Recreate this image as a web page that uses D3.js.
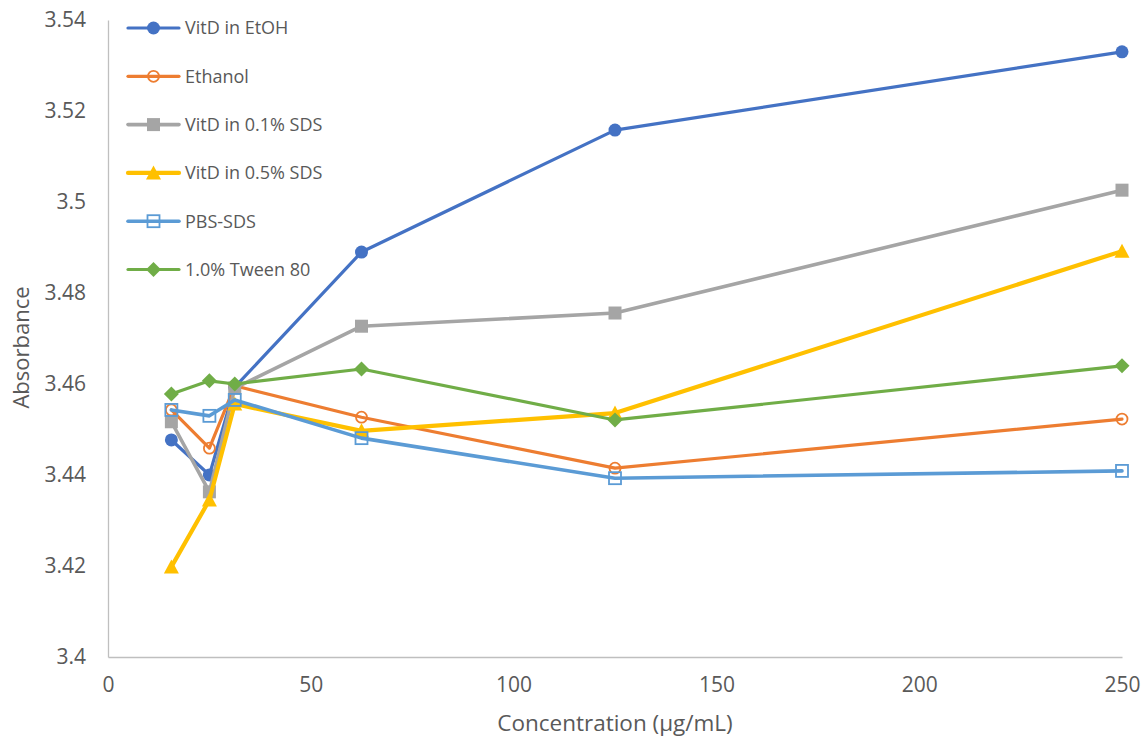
<!DOCTYPE html>
<html>
<head>
<meta charset="utf-8">
<script src="https://cdn.jsdelivr.net/npm/d3@7"></script>
<style>
  html, body { margin: 0; padding: 0; background: #fff; }
  svg { display: block; }
  text { font-family: "Open Sans", sans-serif; fill: #595959; }
</style>
</head>
<body>
<svg id="chart" width="1145" height="740"></svg>
<script>
// Concentrations (µg/mL)
const concentrations = [15.625, 25, 31.25, 62.5, 125, 250];

// Absorbance for each sample
const vitdEtoh   = [3.4477, 3.4400, 3.4593, 3.4890, 3.5158, 3.5330];
const ethanol    = [3.4543, 3.4459, 3.4596, 3.4527, 3.4415, 3.4523];
const vitdSds01  = [3.4517, 3.4363, 3.4591, 3.4727, 3.4756, 3.5026];
const vitdSds05  = [3.4198, 3.4345, 3.4556, 3.4497, 3.4536, 3.4892];
const pbsSds     = [3.4543, 3.4530, 3.4565, 3.4481, 3.4393, 3.4409];
const tween80    = [3.4578, 3.4607, 3.4600, 3.4633, 3.4521, 3.4640];

const seriesNames = ["VitD in EtOH", "Ethanol", "VitD in 0.1% SDS", "VitD in 0.5% SDS", "PBS-SDS", "1.0% Tween 80"];
const xTicks = [0, 50, 100, 150, 200, 250];
const yTicks = [3.4, 3.42, 3.44, 3.46, 3.48, 3.5, 3.52, 3.54];

const series = [
  { name: seriesNames[0], values: vitdEtoh,  color: "#4472C4", marker: "circle",   filled: true,  width: 3.2 },
  { name: seriesNames[1], values: ethanol,   color: "#ED7D31", marker: "circle",   filled: false, width: 3.2 },
  { name: seriesNames[2], values: vitdSds01, color: "#A5A5A5", marker: "square",   filled: true,  width: 3.6 },
  { name: seriesNames[3], values: vitdSds05, color: "#FFC000", marker: "triangle", filled: true,  width: 4.2 },
  { name: seriesNames[4], values: pbsSds,    color: "#5B9BD5", marker: "square",   filled: false, width: 3.6 },
  { name: seriesNames[5], values: tween80,   color: "#70AD47", marker: "diamond",  filled: true,  width: 3.2 }
];

const svg = d3.select("#chart");
const plotLeft = 108, plotRight = 1122, plotTop = 20, plotBottom = 657;

const x = d3.scaleLinear().domain([0, 250]).range([plotLeft, plotRight]);
const y = d3.scaleLinear().domain([3.4, 3.54]).range([plotBottom, plotTop]);

// Axes
const xAxis = svg.append("g").attr("transform", `translate(0,${plotBottom})`)
  .call(d3.axisBottom(x).tickValues(xTicks).tickSize(0).tickPadding(20).tickFormat(d3.format("d")));
const yAxis = svg.append("g").attr("transform", `translate(${plotLeft},0)`)
  .call(d3.axisLeft(y).tickValues(yTicks).tickSize(0).tickPadding(22).tickFormat(d => String(+d.toFixed(2))));
[xAxis, yAxis].forEach(g => {
  g.select(".domain").attr("stroke", "#BFBFBF").attr("stroke-width", 1.3);
  g.selectAll("text").style("font-size", "21px").style("font-family", "'Open Sans', sans-serif").attr("fill", "#595959");
});

// Axis titles
svg.append("text").attr("x", (plotLeft + plotRight) / 2).attr("y", 731)
  .attr("text-anchor", "middle").style("font-size", "22.5px").text("Concentration (µg/mL)");
svg.append("text").attr("transform", `translate(29,${(plotTop + plotBottom) / 2 + 9}) rotate(-90)`)
  .attr("text-anchor", "middle").style("font-size", "22px").text("Absorbance");

// Marker shapes
function drawMarker(g, s, cx, cy) {
  const fill = s.filled ? s.color : "none";
  let el;
  if (s.marker === "circle") {
    el = g.append("circle").attr("cx", cx).attr("cy", cy).attr("r", s.filled ? 6.5 : 5.5);
  } else if (s.marker === "square") {
    const h = s.filled ? 6.5 : 6;
    el = g.append("rect").attr("x", cx - h).attr("y", cy - h).attr("width", 2 * h).attr("height", 2 * h);
  } else if (s.marker === "triangle") {
    el = g.append("path").attr("d", `M${cx},${cy - 7.5}L${cx + 7.5},${cy + 6.5}L${cx - 7.5},${cy + 6.5}Z`);
  } else {
    el = g.append("path").attr("d", `M${cx},${cy - 7.5}L${cx + 7.5},${cy}L${cx},${cy + 7.5}L${cx - 7.5},${cy}Z`);
  }
  el.attr("fill", fill).attr("stroke", s.color).attr("stroke-width", s.filled ? 0 : 1.8);
}

const line = d3.line().x(d => x(d[0])).y(d => y(d[1]));

series.forEach(s => {
  const pts = concentrations.map((c, i) => [c, s.values[i]]);
  const g = svg.append("g");
  g.append("path").datum(pts).attr("d", line)
    .attr("fill", "none").attr("stroke", s.color).attr("stroke-width", s.width)
    .attr("stroke-linejoin", "round").attr("stroke-linecap", "round");
  pts.forEach(p => drawMarker(g, s, x(p[0]), y(p[1])));
});

// Legend
const legend = svg.append("g");
series.forEach((s, i) => {
  const ly = 28 + i * 48.3;
  const g = legend.append("g");
  g.append("line").attr("x1", 128).attr("x2", 179).attr("y1", ly).attr("y2", ly)
    .attr("stroke", s.color).attr("stroke-width", s.width).attr("stroke-linecap", "round");
  drawMarker(g, s, 153.5, ly);
  g.append("text").attr("x", 185).attr("y", ly).attr("dy", "0.36em")
    .style("font-size", "18px").text(s.name);
});
</script>
</body>
</html>
